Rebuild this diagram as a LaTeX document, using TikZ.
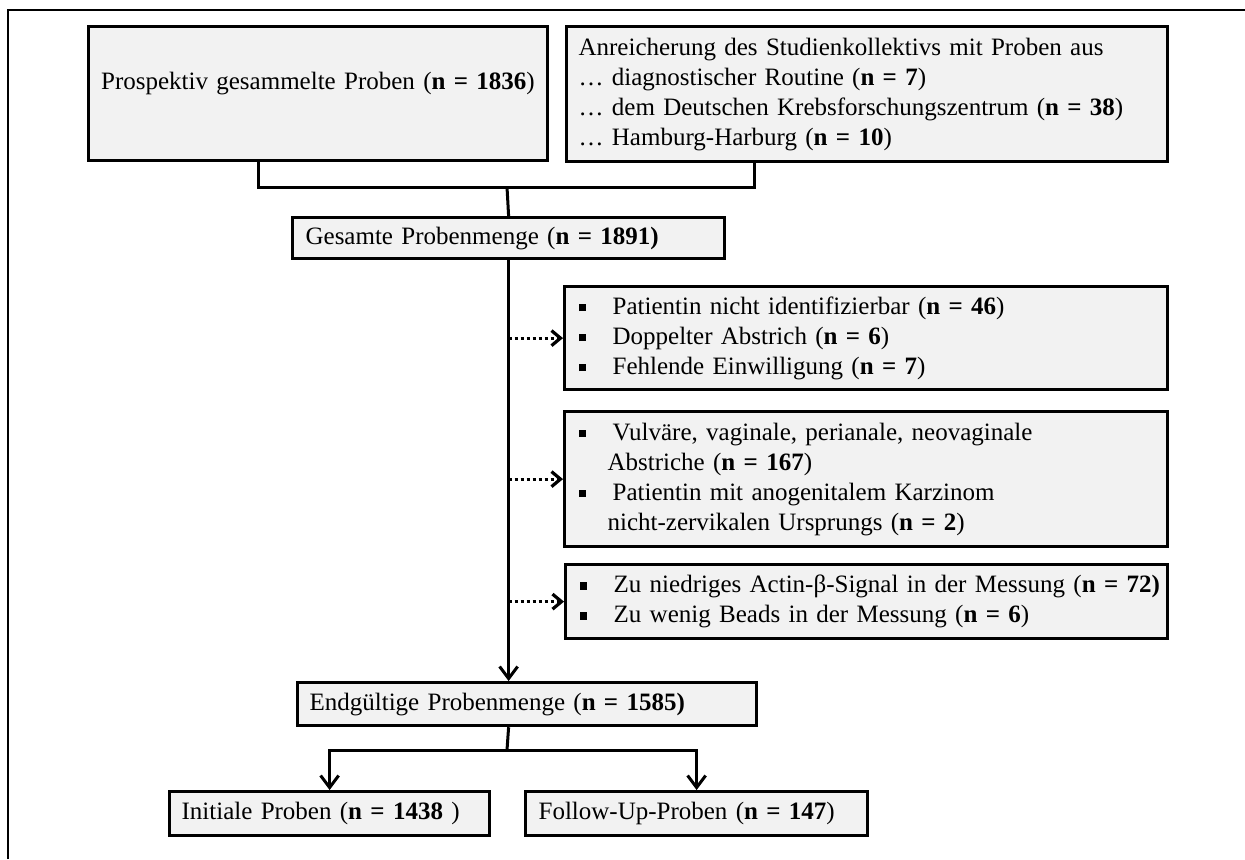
\documentclass[tikz,border=0pt]{standalone}
\usepackage{fontspec}
\setmainfont{Liberation Serif}
\usetikzlibrary{arrows.meta}
\definecolor{boxfill}{HTML}{F2F2F2}
\newcommand\sqbul{\makebox[17pt][l]{\rule[1.6pt]{3.6pt}{3.6pt}}}
\newcommand\contind{\hspace{14.5pt}}
\begin{document}
\begin{tikzpicture}[x=0.5pt,y=-0.5pt,
  every node/.style={font=\fontsize{12.5}{15}\selectfont},
  box/.style={draw, line width=1.6pt, fill=boxfill, anchor=north west, inner ysep=0pt, align=left},
  conn/.style={line width=1.5pt},
  arr/.style={conn, -{Straight Barb[length=6pt,width=9pt]}},
  dotarr/.style={line width=1.6pt, dash pattern=on 1.5pt off 1.5pt, -{Straight Barb[length=4.5pt,width=7.5pt]}}]
\useasboundingbox (0,0) rectangle (1245,859);
\draw[line width=0.8pt] (8,859) -- (8,10) -- (1245,10);

\node[box, minimum width=229.5pt, minimum height=67pt, text width=217pt, inner xsep=6.25pt] (pro) at (87,25)
  {\raisebox{5pt}[\height][\depth]{Prospektiv gesammelte Proben (\textbf{n = 1836})}};
\node[box, minimum width=300.5pt, minimum height=67.5pt, text width=288.5pt, inner xsep=6pt] (enr) at (565,25)
  {Anreicherung des Studienkollektivs mit Proben aus\\
   … diagnostischer Routine (\textbf{n = 7})\\
   … dem Deutschen Krebsforschungszentrum (\textbf{n = 38})\\
   … Hamburg-Harburg (\textbf{n = 10})};
\node[box, minimum width=216pt, minimum height=20.5pt, text width=203pt, inner xsep=6.5pt] (ges) at (291,216)
  {Gesamte Probenmenge (\textbf{n = 1891)}};
\node[box, minimum width=301.5pt, minimum height=51.5pt, text width=287.5pt, inner xsep=7pt] (exa) at (563,285)
  {\sqbul Patientin nicht identifizierbar (\textbf{n = 46})\\
   \sqbul Doppelter Abstrich (\textbf{n = 6})\\
   \sqbul Fehlende Einwilligung (\textbf{n = 7})};
\node[box, minimum width=301.5pt, minimum height=67.5pt, text width=287.5pt, inner xsep=7pt] (exb) at (563,410)
  {\sqbul Vulväre, vaginale, perianale, neovaginale\\
   \contind Abstriche (\textbf{n = 167})\\
   \sqbul Patientin mit anogenitalem Karzinom\\
   \contind nicht-zervikalen Ursprungs (\textbf{n = 2})};
\node[box, minimum width=301pt, minimum height=37pt, text width=287pt, inner xsep=7pt] (exc) at (564,563)
  {\mbox{\sqbul Zu niedriges Actin-β-Signal in der Messung (\textbf{n = 72)}}\\
   \sqbul Zu wenig Beads in der Messung (\textbf{n = 6})};
\node[box, minimum width=229.5pt, minimum height=21.5pt, text width=217.5pt, inner xsep=6pt] (end) at (296,681)
  {Endgültige Probenmenge (\textbf{n = 1585)}};
\node[box, minimum width=160pt, minimum height=22pt, text width=148pt, inner xsep=6pt] (ini) at (168,790)
  {Initiale Proben (\textbf{n = 1438} )};
\node[box, minimum width=171pt, minimum height=22pt, text width=158pt, inner xsep=6.5pt] (fu) at (524,790)
  {Follow-Up-Proben (\textbf{n = 147})};

\coordinate (j1) at (507,187);
\coordinate (j2) at (507,750);
\draw[conn] ([xshift=85.5pt]pro.south west) |- (j1) -| ([xshift=94.5pt]enr.south west);
\draw[conn] (j1) -- (ges.north);
\draw[arr] (ges.south) -- (ges.south |- end.north);
\draw[dotarr] (ges.south |- exa.west) -- (exa.west);
\draw[dotarr] (ges.south |- exb.west) -- (exb.west);
\draw[dotarr] (ges.south |- exc.west) -- (exc.west);
\draw[conn] (ges.south |- end.south) -- (j2);
\draw[arr] (j2) -| (ini.north);
\draw[arr] (j2) -| (fu.north);
\end{tikzpicture}
\end{document}
